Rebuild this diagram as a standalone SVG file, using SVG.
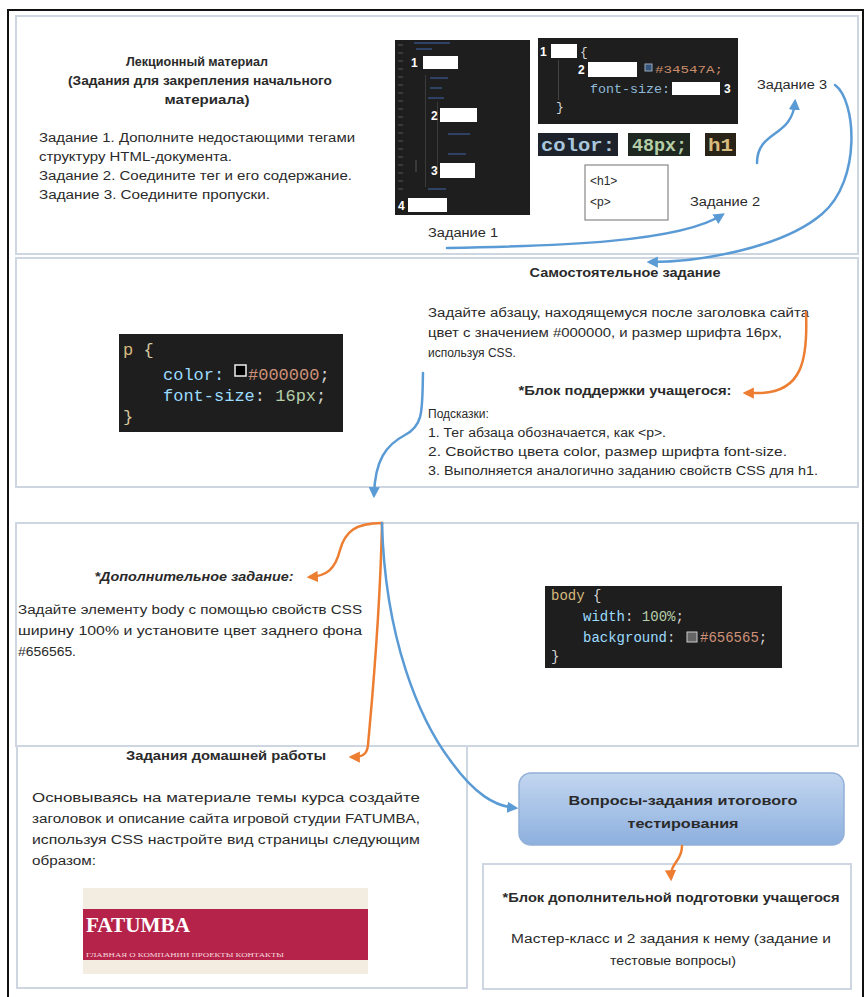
<svg xmlns="http://www.w3.org/2000/svg" width="866" height="997" viewBox="0 0 866 997">
<defs>
<style>
.t{font-family:"Liberation Sans",Arial,sans-serif;font-size:12px;fill:#2a2a2a}
.b{font-weight:bold}
.m{font-family:"Liberation Mono","DejaVu Sans Mono",monospace}
.panel{fill:#fff;stroke:#cdd6e1;stroke-width:2}
.code{fill:#1e1e1e}
.wbox{fill:#fff}
.num{font-family:"Liberation Sans",Arial,sans-serif;font-size:12px;font-weight:bold;fill:#fff}
.faint{fill:#34507a;opacity:.75}
.ln{fill:#3a3a3a}
.blue{fill:none;stroke:#5b9bd5;stroke-width:2.5;stroke-linecap:round}
.orange{fill:none;stroke:#ed7d31;stroke-width:2.5;stroke-linecap:round}
</style>
<marker id="ab" viewBox="0 0 10 10" refX="7" refY="5" markerWidth="4.5" markerHeight="4.5" orient="auto" markerUnits="strokeWidth"><path d="M0,0 L10,5 L0,10 z" fill="#5b9bd5"/></marker>
<marker id="ao" viewBox="0 0 10 10" refX="7" refY="5" markerWidth="4.5" markerHeight="4.5" orient="auto" markerUnits="strokeWidth"><path d="M0,0 L10,5 L0,10 z" fill="#ed7d31"/></marker>
<linearGradient id="gbox" x1="0" y1="0" x2="0" y2="1"><stop offset="0" stop-color="#c3d6f0"/><stop offset="1" stop-color="#8db0de"/></linearGradient>
</defs>
<rect x="0" y="0" width="866" height="997" fill="#fff"/>
<rect x="8" y="10" width="855" height="995" fill="none" stroke="#111" stroke-width="2"/>

<g id="panel-lecture">
<rect class="panel" x="16" y="16" width="842" height="238"/>
<text class="t b" x="197" y="66" text-anchor="middle" textLength="142" lengthAdjust="spacingAndGlyphs">Лекционный материал</text>
<text class="t b" x="200" y="85" text-anchor="middle" textLength="264" lengthAdjust="spacingAndGlyphs">(Задания для закрепления начального</text>
<text class="t b" x="207" y="104" text-anchor="middle" textLength="85" lengthAdjust="spacingAndGlyphs">материала)</text>
<text class="t" x="39" y="142" textLength="316" lengthAdjust="spacingAndGlyphs">Задание 1. Дополните недостающими тегами</text>
<text class="t" x="39" y="161" textLength="193" lengthAdjust="spacingAndGlyphs">структуру HTML-документа.</text>
<text class="t" x="39" y="180" textLength="313" lengthAdjust="spacingAndGlyphs">Задание 2. Соедините тег и его содержание.</text>
<text class="t" x="39" y="199" textLength="231" lengthAdjust="spacingAndGlyphs">Задание 3. Соедините пропуски.</text>
</g>

<g id="code-html">
<rect class="code" x="395" y="40" width="135" height="175"/>
<g class="ln">
<rect x="398" y="44" width="5" height="2"/><rect x="398" y="52" width="5" height="2"/><rect x="398" y="60" width="5" height="2"/><rect x="398" y="68" width="5" height="2"/><rect x="398" y="76" width="5" height="2"/><rect x="398" y="84" width="5" height="2"/><rect x="398" y="92" width="5" height="2"/><rect x="398" y="100" width="5" height="2"/><rect x="398" y="108" width="5" height="2"/><rect x="398" y="116" width="5" height="2"/><rect x="398" y="124" width="5" height="2"/><rect x="398" y="132" width="5" height="2"/><rect x="398" y="140" width="5" height="2"/><rect x="398" y="148" width="5" height="2"/><rect x="398" y="156" width="5" height="2"/><rect x="398" y="164" width="5" height="2"/><rect x="398" y="172" width="5" height="2"/><rect x="398" y="180" width="5" height="2"/><rect x="398" y="188" width="5" height="2"/>
<rect x="425" y="75" width="1" height="112"/><rect x="437" y="102" width="1" height="70"/><rect x="415" y="160" width="2" height="12"/>
</g>
<g class="faint">
<rect x="414" y="42" width="36" height="2"/><rect x="416" y="48" width="16" height="2"/>
<rect x="430" y="77" width="18" height="2"/><rect x="430" y="87" width="12" height="2"/><rect x="428" y="97" width="16" height="2"/>
<rect x="448" y="133" width="22" height="2"/><rect x="448" y="153" width="18" height="2"/><rect x="428" y="188" width="18" height="2"/>
</g>
<text class="num" x="411" y="67">1</text><rect class="wbox" x="423" y="56" width="35" height="13"/>
<text class="num" x="431" y="120">2</text><rect class="wbox" x="440" y="108" width="37" height="14"/>
<text class="num" x="431" y="175">3</text><rect class="wbox" x="440" y="163" width="35" height="15"/>
<text class="num" x="398" y="210">4</text><rect class="wbox" x="408" y="198" width="39" height="14"/>
</g>

<g id="code-css-gaps">
<rect class="code" x="538" y="38" width="200" height="86"/>
<rect x="558" y="60" width="1" height="40" fill="#444"/>
<text class="num" x="540" y="56">1</text><rect class="wbox" x="551" y="44" width="26" height="14"/>
<text class="m" x="580" y="56" font-size="13" fill="#d4d4d4">{</text>
<text class="num" x="578" y="74">2</text><rect class="wbox" x="588" y="62" width="49" height="15"/>
<rect x="645" y="64" width="7" height="7" fill="#34547a" stroke="#9ab" stroke-width="1"/>
<text class="m" x="655" y="73" font-size="11" fill="#c98c6a" textLength="68" lengthAdjust="spacingAndGlyphs">#34547A;</text>
<text class="m" x="590" y="93" font-size="13" fill="#8fbad8" textLength="80" lengthAdjust="spacingAndGlyphs">font-size:</text>
<rect class="wbox" x="672" y="82" width="48" height="13"/>
<text class="num" x="724" y="93">3</text>
<text class="m" x="556" y="111" font-size="13" fill="#d4d4d4">}</text>
</g>

<g id="chips">
<rect x="538" y="133" width="80" height="23" fill="#1e232b"/>
<text class="m b" x="541" y="151" font-size="19" fill="#a9c6dc" textLength="74" lengthAdjust="spacingAndGlyphs">color:</text>
<rect x="628" y="133" width="62" height="23" fill="#1f2820"/>
<text class="m b" x="632" y="151" font-size="19" fill="#b5cea8" textLength="55" lengthAdjust="spacingAndGlyphs">48px;</text>
<rect x="705" y="133" width="31" height="23" fill="#2a2418"/>
<text class="m b" x="708" y="151" font-size="19" fill="#d7ba7d" textLength="25" lengthAdjust="spacingAndGlyphs">h1</text>
</g>

<g id="tags-box">
<rect x="585" y="165" width="83" height="55" fill="#fff" stroke="#888" stroke-width="1.2"/>
<text class="t" x="590" y="185">&lt;h1&gt;</text>
<text class="t" x="590" y="206">&lt;p&gt;</text>
</g>

<g id="labels-tasks">
<text class="t" x="757" y="89" textLength="70" lengthAdjust="spacingAndGlyphs">Задание 3</text>
<text class="t" x="690" y="206" textLength="70" lengthAdjust="spacingAndGlyphs">Задание 2</text>
<text class="t" x="428" y="237" textLength="70" lengthAdjust="spacingAndGlyphs">Задание 1</text>
</g>

<g id="panel-independent">
<rect class="panel" x="16" y="258" width="842" height="229"/>
<text class="t b" x="625" y="277" text-anchor="middle" textLength="191" lengthAdjust="spacingAndGlyphs">Самостоятельное задание</text>
<text class="t" x="428" y="317" textLength="381" lengthAdjust="spacingAndGlyphs">Задайте абзацу, находящемуся после заголовка сайта</text>
<text class="t" x="428" y="337" textLength="354" lengthAdjust="spacingAndGlyphs">цвет с значением #000000, и размер шрифта 16px,</text>
<text class="t" x="428" y="357" font-size="11.5">используя CSS.</text>
<text class="t b" x="625" y="395" text-anchor="middle" textLength="213" lengthAdjust="spacingAndGlyphs">*Блок поддержки учащегося:</text>
<text class="t" x="428" y="418" font-size="11.5">Подсказки:</text>
<text class="t" x="428" y="437" textLength="238" lengthAdjust="spacingAndGlyphs">1. Тег абзаца обозначается, как &lt;p&gt;.</text>
<text class="t" x="428" y="456" textLength="359" lengthAdjust="spacingAndGlyphs">2. Свойство цвета color, размер шрифта font-size.</text>
<text class="t" x="428" y="475" textLength="390" lengthAdjust="spacingAndGlyphs">3. Выполняется аналогично заданию свойств CSS для h1.</text>
</g>

<g id="code-p">
<rect class="code" x="119" y="334" width="224" height="98"/>
<text class="m" x="123" y="355" font-size="17"><tspan fill="#d7ba7d">p</tspan><tspan fill="#d7c9a0"> {</tspan></text>
<text class="m" x="163" y="380" font-size="17" fill="#9cdcfe">color:</text>
<rect x="235" y="365" width="11" height="11" fill="#000" stroke="#eee" stroke-width="1.5"/>
<text class="m" x="248" y="380" font-size="17"><tspan fill="#ce9178">#000000</tspan><tspan fill="#d4d4d4">;</tspan></text>
<text class="m" x="163" y="401" font-size="17"><tspan fill="#9cdcfe">font-size</tspan><tspan fill="#d4d4d4">: </tspan><tspan fill="#b5cea8">16px</tspan><tspan fill="#d4d4d4">;</tspan></text>
<text class="m" x="123" y="422" font-size="17" fill="#d7c9a0">}</text>
</g>

<g id="panel-extra">
<rect class="panel" x="16" y="523" width="842" height="223"/>
<text class="t b" x="194" y="581" text-anchor="middle" font-style="italic" textLength="199" lengthAdjust="spacingAndGlyphs">*Дополнительное задание:</text>
<text class="t" x="18" y="614" textLength="344" lengthAdjust="spacingAndGlyphs">Задайте элементу body с помощью свойств CSS</text>
<text class="t" x="18" y="635" textLength="344" lengthAdjust="spacingAndGlyphs">ширину 100% и установите цвет заднего фона</text>
<text class="t" x="18" y="656" textLength="58" lengthAdjust="spacingAndGlyphs">#656565.</text>
</g>

<g id="code-body">
<rect class="code" x="545" y="586" width="237" height="82"/>
<text class="m" x="551" y="600" font-size="14"><tspan fill="#d7ba7d">body</tspan><tspan fill="#d4d4d4"> {</tspan></text>
<text class="m" x="583" y="621" font-size="14"><tspan fill="#9cdcfe">width</tspan><tspan fill="#d4d4d4">: </tspan><tspan fill="#b5cea8">100%</tspan><tspan fill="#d4d4d4">;</tspan></text>
<text class="m" x="583" y="642" font-size="14"><tspan fill="#9cdcfe">background</tspan><tspan fill="#d4d4d4">:</tspan></text>
<rect x="687" y="632" width="10" height="10" fill="#656565" stroke="#ccc" stroke-width="1"/>
<text class="m" x="700" y="642" font-size="14"><tspan fill="#ce9178">#656565</tspan><tspan fill="#d4d4d4">;</tspan></text>
<text class="m" x="551" y="661" font-size="14" fill="#d4d4d4">}</text>
</g>

<g id="panel-homework">
<rect class="panel" x="17" y="746" width="450" height="242"/>
<text class="t b" x="226" y="760" text-anchor="middle" textLength="200" lengthAdjust="spacingAndGlyphs">Задания домашней работы</text>
<text class="t" x="32" y="802" textLength="388" lengthAdjust="spacingAndGlyphs">Основываясь на материале темы курса создайте</text>
<text class="t" x="32" y="823" textLength="388" lengthAdjust="spacingAndGlyphs">заголовок и описание сайта игровой студии FATUMBA,</text>
<text class="t" x="32" y="844" textLength="388" lengthAdjust="spacingAndGlyphs">используя CSS настройте вид страницы следующим</text>
<text class="t" x="32" y="865" textLength="64" lengthAdjust="spacingAndGlyphs">образом:</text>
</g>

<g id="fatumba-preview">
<rect x="83" y="888" width="285" height="86" fill="#f3ece0"/>
<rect x="83" y="909" width="285" height="51" fill="#b5234a"/>
<text x="86" y="932" font-family="Liberation Serif,serif" font-weight="bold" font-size="22" fill="#fff" textLength="104" lengthAdjust="spacingAndGlyphs">FATUMBA</text>
<text x="86" y="957" font-family="Liberation Serif,serif" font-size="6" fill="#f7d6dd" textLength="198" lengthAdjust="spacingAndGlyphs">ГЛАВНАЯ О КОМПАНИИ ПРОЕКТЫ КОНТАКТЫ</text>
</g>

<g id="final-test">
<rect x="519" y="773" width="325" height="72" rx="12" fill="url(#gbox)" stroke="#93b0d8" stroke-width="1.5"/>
<text class="t b" x="683" y="805" text-anchor="middle" font-size="14" textLength="229" lengthAdjust="spacingAndGlyphs">Вопросы-задания итогового</text>
<text class="t b" x="683" y="828" text-anchor="middle" font-size="14" textLength="111" lengthAdjust="spacingAndGlyphs">тестирования</text>
</g>

<g id="panel-prep">
<rect class="panel" x="483" y="864" width="368" height="125"/>
<text class="t b" x="671" y="902" text-anchor="middle" textLength="337" lengthAdjust="spacingAndGlyphs">*Блок дополнительной подготовки учащегося</text>
<text class="t" x="671" y="943" text-anchor="middle" textLength="320" lengthAdjust="spacingAndGlyphs">Мастер-класс и 2 задания к нему (задание и</text>
<text class="t" x="673" y="965" text-anchor="middle" textLength="126" lengthAdjust="spacingAndGlyphs">тестовые вопросы)</text>
</g>

<g id="connectors">
<path class="blue" d="M447,248 C560,246 680,242 722,215" marker-end="url(#ab)"/>
<path class="blue" d="M757,163 C757,130 792,138 795,102" marker-end="url(#ab)"/>
<path class="blue" d="M835,85 C856,100 862,180 822,214 C782,248 700,262 650,262" marker-end="url(#ab)"/>
<path class="orange" d="M806,312 C808,360 802,392 760,393 L746,393" marker-end="url(#ao)"/>
<path class="blue" d="M423,373 C422,410 424,425 405,435 C386,445 375,460 374,495" marker-end="url(#ab)"/>
<path class="orange" d="M382,523 C355,523 345,532 340,550 C335,570 326,576 310,577" marker-end="url(#ao)"/>
<path class="orange" d="M382,523 C380,620 372,700 368,745 C367,755 362,757 352,757" marker-end="url(#ao)"/>
<path class="blue" d="M382,523 C385,640 420,720 450,760 C475,795 495,806 515,808" marker-end="url(#ab)"/>
<path class="orange" d="M682,846 C682,862 670,862 671,878" marker-end="url(#ao)"/>
</g>
</svg>
